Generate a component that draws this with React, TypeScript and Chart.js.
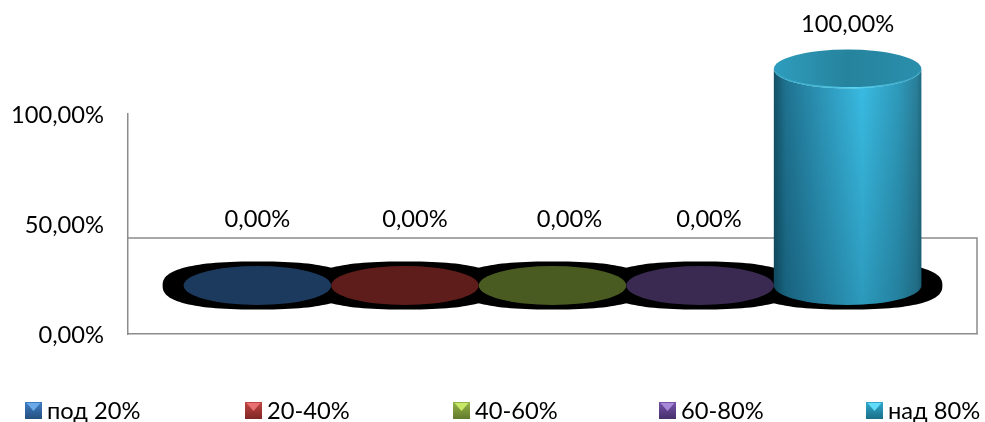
import React, { useEffect, useRef } from "react";
import { Chart, registerables } from "chart.js";

Chart.register(...registerables);

const categories = ["Столбец"];
const seriesNames = ["под 20%", "20-40%", "40-60%", "60-80%", "над 80%"];
const seriesValues = [0, 0, 0, 0, 1];
const yTicks = [0, 0.5, 1];

const flatColors = ["#1c3a5e", "#5e1c1a", "#4a5b22", "#3a2a52", "#26859f"];
const swatchLight = ["#6aa8e8", "#e87070", "#c8e868", "#a888d8", "#60dcf8"];
const swatchMid = ["#3f7cc4", "#c04542", "#94b446", "#7552a8", "#2fa8cc"];
const swatchDark = ["#24507f", "#7f2725", "#627a2c", "#46306c", "#1a6f88"];
const swatchX = [25, 245, 453, 659, 866];
const labelNudgeX = [0, 10, 17, 9, 0];
const labelLift = [47, 47, 47, 47, 25];

const FONT = "Lato, 'Noto Sans', sans-serif";
const FONT_SIZE = 23.7;
const pct = (v: number) => (v * 100).toFixed(2).replace(".", ",") + "%";

function blobPath(ctx: CanvasRenderingContext2D, cx: number, cy: number, rx: number, ry: number) {
  const p = 2.5;
  ctx.beginPath();
  for (let i = 0; i <= 120; i++) {
    const t = (i / 120) * Math.PI * 2;
    const c = Math.cos(t);
    const s = Math.sin(t);
    const x = cx + rx * Math.sign(c) * Math.pow(Math.abs(c), 2 / p);
    const y = cy + ry * Math.sign(s) * Math.pow(Math.abs(s), 2 / p);
    if (i === 0) ctx.moveTo(x, y);
    else ctx.lineTo(x, y);
  }
  ctx.closePath();
}

const cylinderPlugin = {
  id: "cylinders",
  beforeDatasetsDraw(chart: any) {
    const { ctx, chartArea } = chart;
    ctx.save();
    ctx.strokeStyle = "#8c8c8c";
    ctx.lineWidth = 1.5;
    ctx.beginPath();
    const top = chartArea.bottom - 96;
    ctx.moveTo(chartArea.left, top);
    ctx.lineTo(chartArea.right, top);
    ctx.lineTo(chartArea.right, chartArea.bottom);
    ctx.stroke();
    ctx.restore();
  },
  afterDatasetsDraw(chart: any) {
    const { ctx } = chart;
    const depth = 48.5;
    const ry = 19.5;
    const metas = seriesNames.map((_, i) => chart.getDatasetMeta(i).data[0]);
    ctx.save();
    // shadows
    metas.forEach((m: any) => {
      blobPath(ctx, m.x, m.base - depth, m.width / 2 + 21, ry + 4.5);
      ctx.fillStyle = "#000";
      ctx.fill();
    });
    metas.forEach((m: any, i: number) => {
      const rx = m.width / 2;
      const cy = m.base - depth;
      const topY = cy - (m.base - m.y) * 0.984;
      if (seriesValues[i] > 0) {
        ctx.beginPath();
        ctx.moveTo(m.x - rx, topY);
        ctx.lineTo(m.x - rx, cy);
        ctx.ellipse(m.x, cy, rx, ry, 0, Math.PI, 0, true);
        ctx.lineTo(m.x + rx, topY);
        ctx.ellipse(m.x, topY, rx, ry, 0, 0, Math.PI, false);
        ctx.closePath();
        const g = ctx.createLinearGradient(m.x - rx, 0, m.x + rx, 0);
        g.addColorStop(0, "#135165");
        g.addColorStop(0.08, "#1f7391");
        g.addColorStop(0.3, "#2c93b5");
        g.addColorStop(0.6, "#3abde4");
        g.addColorStop(0.85, "#2f9abb");
        g.addColorStop(0.97, "#2a7f99");
        g.addColorStop(1, "#1f6a80");
        ctx.fillStyle = g;
        ctx.fill();
        const v = ctx.createLinearGradient(0, topY, 0, cy + ry);
        v.addColorStop(0, "rgba(0,40,60,0)");
        v.addColorStop(1, "rgba(0,40,60,0.24)");
        ctx.fillStyle = v;
        ctx.fill();
        // top cap
        ctx.beginPath();
        ctx.ellipse(m.x, topY, rx, ry, 0, 0, Math.PI * 2);
        const capG = ctx.createLinearGradient(m.x - rx, 0, m.x + rx, 0);
        capG.addColorStop(0, "#2e9dbd");
        capG.addColorStop(0.5, "#26839d");
        capG.addColorStop(1, "#2a8fac");
        ctx.fillStyle = capG;
        ctx.fill();
        ctx.beginPath();
        ctx.ellipse(m.x, topY, rx - 0.7, ry - 0.7, 0, 0.15, Math.PI - 0.15);
        const rim = ctx.createLinearGradient(m.x - rx, 0, m.x + rx, 0);
        rim.addColorStop(0, "rgba(70,190,225,0.3)");
        rim.addColorStop(0.55, "rgba(90,215,245,1)");
        rim.addColorStop(1, "rgba(70,190,225,0.3)");
        ctx.strokeStyle = rim;
        ctx.lineWidth = 1.5;
        ctx.stroke();
      } else {
        ctx.beginPath();
        ctx.ellipse(m.x, cy, rx, ry, 0, 0, Math.PI * 2);
        ctx.fillStyle = flatColors[i];
        ctx.fill();
      }
    });
    // value labels
    ctx.font = `${FONT_SIZE}px ${FONT}`;
    ctx.fillStyle = "#000";
    ctx.textAlign = "center";
    ctx.textBaseline = "middle";
    metas.forEach((m: any, i: number) => {
      const cy = m.base - depth;
      const topY = cy - (m.base - m.y) * 0.984;
      ctx.fillText(pct(seriesValues[i]), m.x + labelNudgeX[i], topY - ry - labelLift[i]);
    });
    // legend
    ctx.textAlign = "left";
    seriesNames.forEach((name, i) => {
      const x = swatchX[i];
      const y = 402;
      const s = 17;
      const g = ctx.createLinearGradient(0, y, 0, y + s);
      g.addColorStop(0, swatchMid[i]);
      g.addColorStop(1, swatchDark[i]);
      ctx.fillStyle = g;
      ctx.fillRect(x, y, s, s);
      ctx.fillStyle = swatchLight[i];
      ctx.beginPath();
      ctx.moveTo(x + 1.5, y + 1);
      ctx.lineTo(x + s - 1.5, y + 1);
      ctx.lineTo(x + 8.5, y + 9);
      ctx.closePath();
      ctx.fill();
      ctx.fillStyle = "#000";
      ctx.fillText(name, x + 22, 411);
    });
    ctx.restore();
  },
};

export default function App() {
  const ref = useRef<HTMLCanvasElement>(null);
  useEffect(() => {
    const chart = new Chart(ref.current as HTMLCanvasElement, {
      type: "bar",
      data: {
        labels: categories,
        datasets: seriesNames.map((name, i) => ({
          label: name,
          data: [seriesValues[i]],
          backgroundColor: "rgba(0,0,0,0)",
          borderWidth: 0,
          barPercentage: 1,
          categoryPercentage: 0.869,
        })),
      },
      options: {
        animation: false,
        responsive: false,
        devicePixelRatio: 1,
        layout: { padding: { top: 114, bottom: 88, right: 8, left: 0 } },
        plugins: { legend: { display: false }, tooltip: { enabled: false }, title: { display: false } },
        scales: {
          x: {
            grid: { display: false, drawTicks: false },
            border: { display: true, color: "#8c8c8c", width: 1.5 },
            ticks: { display: false },
            afterFit: (s: any) => { s.height = 0; },
          },
          y: {
            min: 0,
            max: 1,
            grid: { display: false, drawTicks: false },
            border: { display: true, color: "#8c8c8c", width: 1.5 },
            afterBuildTicks: (s: any) => { s.ticks = yTicks.map((value) => ({ value })); },
            afterFit: (s: any) => { s.width = 128; },
            ticks: {
              padding: 24,
              labelOffset: 1,
              color: "#000",
              font: { family: FONT, size: FONT_SIZE },
              callback: (v: any) => pct(Number(v)),
            },
          },
        },
      },
      plugins: [cylinderPlugin],
    } as any);
    return () => chart.destroy();
  }, []);
  return (
    <div style={{ position: "fixed", left: 0, top: 0, width: 985, height: 422, background: "#fff" }}>
      <canvas ref={ref} width={985} height={422} style={{ display: "block" }} />
    </div>
  );
}
